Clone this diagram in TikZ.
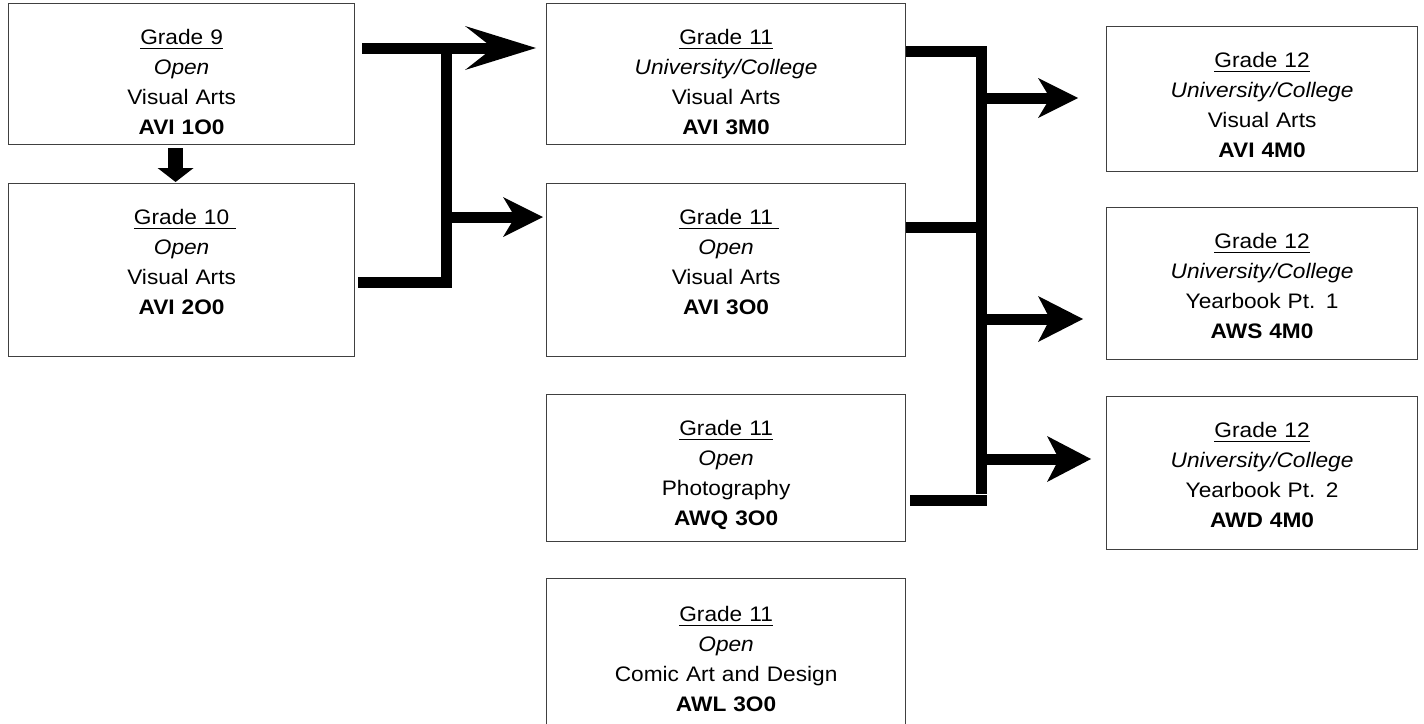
\documentclass[tikz,border=0pt]{standalone}
\usepackage{fontspec}
\setmainfont{Liberation Sans}[FakeStretch=1.08]
\usetikzlibrary{arrows.meta}

\newcommand\uln[1]{\setbox0=\hbox{#1}\rlap{\rule[-4.8pt]{\wd0}{1.8pt}}\box0}
\newcommand\ulsp[1]{\uln{#1}\rlap{\rule[-4.8pt]{0.3em}{1.8pt}}}

\begin{document}
\begin{tikzpicture}[x=1pt, y=-1pt,
    course/.style={draw=black!75, line width=1.2pt, inner sep=0pt, anchor=north west,
        align=center, text height=41pt, font=\fontsize{21}{30}\selectfont},
    pipe/.style={line width=11pt, line join=miter},
    bighead/.style={-{Stealth[length=71pt, width=44pt, inset=28pt, line width=0pt]}},
    head/.style 2 args={-{Stealth[length=#1, width=#2, inset=12pt, line width=0pt]}},
    drop/.style={line width=15pt, -{Triangle[length=14pt, width=36pt, line width=0pt]}}
]
\useasboundingbox (0,0) rectangle (1424,723);

\node[course, text width=346pt, text depth=100pt] (g9) at (8,3)
    {\uln{Grade 9}\\\textit{Open}\\Visual Arts\\\textbf{AVI 1O0}};
\node[course, text width=346pt, text depth=132pt] (g10) at (8,183)
    {\ulsp{Grade 10}\\\textit{Open}\\Visual Arts\\\textbf{AVI 2O0}};

\node[course, text width=359pt, text depth=100pt] (g11u) at (546,3)
    {\uln{Grade 11}\\\textit{University/College}\\Visual Arts\\\textbf{AVI 3M0}};
\node[course, text width=359pt, text depth=132pt] (g11o) at (546,183)
    {\ulsp{Grade 11}\\\textit{Open}\\Visual Arts\\\textbf{AVI 3O0}};
\node[course, text width=359pt, text depth=106pt] (g11p) at (546,394)
    {\uln{Grade 11}\\\textit{Open}\\Photography\\\textbf{AWQ 3O0}};
\node[course, text width=359pt, text height=43pt, text depth=107pt] (g11c) at (546,578)
    {\uln{Grade 11}\\\textit{Open}\\Comic Art and Design\\\textbf{AWL 3O0}};

\node[course, text width=311pt, text depth=104pt] (g12u) at (1106,26)
    {\uln{Grade 12}\\\textit{University/College}\\Visual Arts\\\textbf{AVI 4M0}};
\node[course, text width=311pt, text depth=111pt] (g12y1) at (1106,207)
    {\uln{Grade 12}\\\textit{University/College}\\Yearbook Pt. 1\\\textbf{AWS 4M0}};
\node[course, text width=311pt, text depth=112pt] (g12y2) at (1106,396)
    {\uln{Grade 12}\\\textit{University/College}\\Yearbook Pt. 2\\\textbf{AWD 4M0}};

\draw[drop, shorten <=3pt, shorten >=1pt] ([xshift=-6pt]g9.south) -- ([xshift=-6pt]g10.north);

\coordinate (ja) at (446,48);
\coordinate (jb) at (446,282);
\coordinate (jc) at (446,217);
\draw[pipe, shorten <=3pt] (g10.east |- jb) -- (jb) -- (ja);
\draw[pipe, bighead, shorten <=7pt, shorten >=10pt] (g9.east |- ja) -- (g11u.west |- ja);
\draw[pipe, head={40pt}{40pt}, shorten >=3pt] (jc) -- (g11o.west |- jc);

\coordinate (jt) at (981,51);
\coordinate (jd) at (981,494);
\coordinate (jo) at (981,227);
\coordinate (jp) at (987,500);
\coordinate (r1) at (981,98);
\coordinate (r2) at (981,319);
\coordinate (r3) at (981,459);
\draw[pipe] (g11u.east |- jt) -- (jt) -- (jd);
\draw[pipe] (g11o.east |- jo) -- (jo);
\draw[pipe, shorten <=4pt] (g11p.east |- jp) -- (jp);
\draw[pipe, head={40pt}{40pt}, shorten >=28pt] (r1) -- (g12u.west |- r1);
\draw[pipe, head={45pt}{46pt}, shorten >=23pt] (r2) -- (g12y1.west |- r2);
\draw[pipe, head={44pt}{46pt}, shorten >=15pt] (r3) -- (g12y2.west |- r3);

\end{tikzpicture}
\end{document}
